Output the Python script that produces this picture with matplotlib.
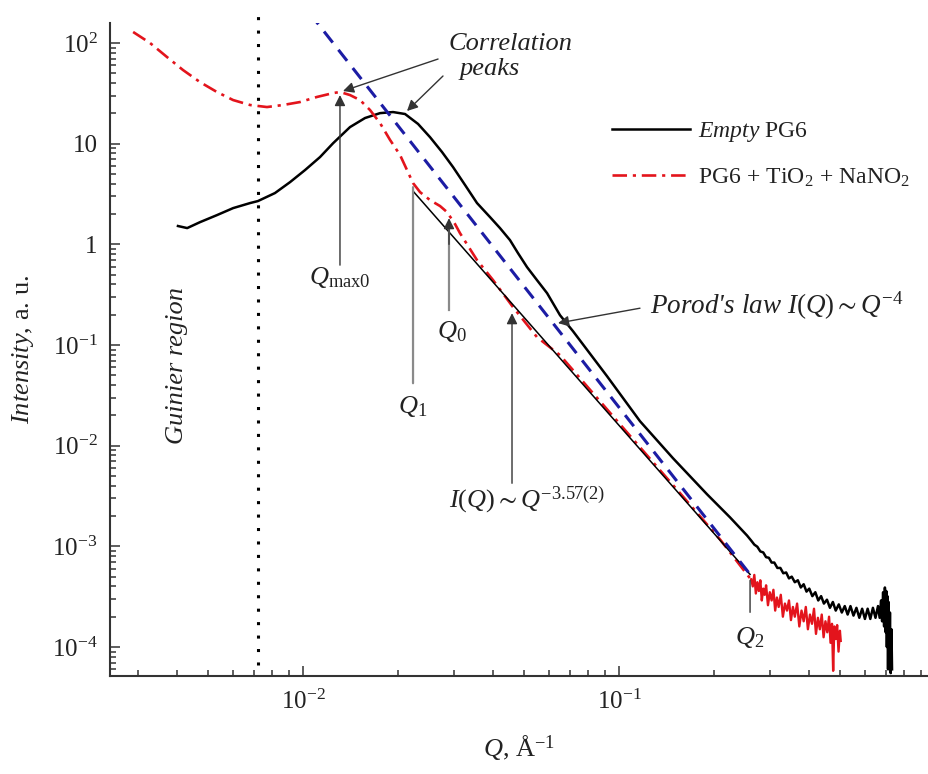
import numpy as np
import matplotlib
matplotlib.use("Agg")
import matplotlib.pyplot as plt
from matplotlib.ticker import LogLocator, FixedLocator, FuncFormatter, NullFormatter

plt.rcParams.update({
    "font.family": "Liberation Serif",
    "mathtext.fontset": "custom",
    "mathtext.rm": "Liberation Serif",
    "mathtext.it": "Liberation Serif:italic",
    "mathtext.bf": "Liberation Serif:bold",
    "mathtext.fallback": "stix",
})

# ---- SANS curves (Q in 1/A, intensity in a.u.) ----
empty_q = [0.00402, 0.00430, 0.00472, 0.00534, 0.00601, 0.00680, 0.00720, 0.00815,
           0.00910, 0.01015, 0.01132, 0.01245, 0.01408, 0.01571, 0.01753, 0.01927,
           0.02103, 0.02312, 0.02523, 0.02754, 0.02984, 0.03257, 0.03553, 0.03906,
           0.04201, 0.04518, 0.04789, 0.05116, 0.05501, 0.05920, 0.06505, 0.07152,
           0.09162, 0.1165, 0.1482, 0.1899, 0.2245, 0.2542]
empty_i = [1.52, 1.45, 1.66, 1.95, 2.29, 2.57, 2.69, 3.23,
           4.15, 5.47, 7.36, 10.1, 14.6, 17.97, 20.1, 20.6,
           19.7, 15.7, 11.6, 8.25, 5.85, 3.88, 2.57, 1.864,
           1.449, 1.101, 0.818, 0.5935, 0.4406, 0.3273, 0.1977, 0.137,
           0.049, 0.0175, 7.5e-3, 3.29e-3, 1.94e-3, 1.28e-3]

# noisy high-Q end of the empty matrix
empty_tail_q = [0.262, 0.268, 0.274, 0.280, 0.286, 0.292, 0.298, 0.304, 0.310, 0.317,
                0.324, 0.331, 0.338, 0.345, 0.352, 0.360, 0.368, 0.376, 0.384, 0.392,
                0.400, 0.409, 0.418, 0.427, 0.436, 0.445, 0.455, 0.465, 0.475, 0.485,
                0.496, 0.507, 0.518, 0.529, 0.540, 0.552, 0.564, 0.576, 0.588, 0.600,
                0.612, 0.624, 0.636, 0.648, 0.660, 0.668, 0.675, 0.680, 0.685, 0.690,
                0.694, 0.698, 0.701, 0.704, 0.707, 0.710, 0.713, 0.716, 0.720, 0.724,
                0.728, 0.731]
empty_tail_i = [1.14e-3, 1.04e-3, 9.9e-4, 8.9e-4, 8.7e-4, 7.8e-4, 7.7e-4, 6.9e-4, 6.9e-4, 6.1e-4,
                6.1e-4, 5.4e-4, 5.5e-4, 4.8e-4, 5.0e-4, 4.4e-4, 4.6e-4, 3.9e-4, 4.2e-4, 3.55e-4,
                3.8e-4, 3.2e-4, 3.5e-4, 2.9e-4, 3.2e-4, 2.7e-4, 2.95e-4, 2.45e-4, 2.8e-4, 2.3e-4,
                2.65e-4, 2.2e-4, 2.55e-4, 2.1e-4, 2.55e-4, 2.05e-4, 2.45e-4, 1.95e-4, 2.4e-4, 1.9e-4,
                2.4e-4, 1.9e-4, 2.45e-4, 1.95e-4, 2.55e-4, 1.95e-4, 2.9e-4, 1.8e-4, 3.5e-4, 1.6e-4,
                3.9e-4, 1.4e-4, 3.6e-4, 1.0e-4, 3.2e-4, 6.0e-5, 2.8e-4, 7.0e-5, 2.2e-4, 5.5e-5,
                1.5e-4, 6.0e-5]

filled_q = [0.00290, 0.00328, 0.00371, 0.00417, 0.00472, 0.00534, 0.00601, 0.00680,
            0.00769, 0.00864, 0.00978, 0.01107, 0.01245, 0.01310, 0.01408, 0.01515,
            0.01629, 0.01753, 0.01885, 0.02028, 0.02229, 0.02346, 0.02523, 0.02714,
            0.02856, 0.03027, 0.03139, 0.03553, 0.03994, 0.04618, 0.05501, 0.06505,
            0.08707, 0.1165, 0.1560, 0.2088, 0.2598]
filled_i = [128.6, 100.0, 72.6, 53.9, 40.9, 32.6, 27.1, 24.2,
            23.1, 24.2, 25.9, 29.1, 31.8, 32.6, 30.4, 27.1,
            21.6, 16.0, 10.9, 7.71, 4.06, 3.30, 2.75, 2.40,
            2.09, 1.59, 1.29, 0.697, 0.441, 0.238, 0.1197, 0.0792,
            0.0276, 9.64e-3, 3.37e-3, 1.17e-3, 4.81e-4]

filled_tail_q = [0.262, 0.265, 0.268, 0.271, 0.274, 0.277, 0.280, 0.283, 0.286, 0.289,
                 0.292, 0.296, 0.300, 0.304, 0.308, 0.312, 0.316, 0.320, 0.325, 0.330,
                 0.335, 0.340, 0.345, 0.350, 0.355, 0.360, 0.366, 0.372, 0.378, 0.384,
                 0.390, 0.396, 0.402, 0.408, 0.414, 0.420, 0.426, 0.432, 0.438, 0.444,
                 0.450, 0.456, 0.462, 0.467, 0.472, 0.476, 0.480, 0.485, 0.490, 0.495,
                 0.500, 0.503]
filled_tail_i = [4.7e-4, 4.0e-4, 5.2e-4, 3.4e-4, 4.4e-4, 3.6e-4, 4.6e-4, 2.9e-4, 3.8e-4, 3.3e-4,
                 4.1e-4, 2.6e-4, 3.5e-4, 2.9e-4, 3.7e-4, 2.3e-4, 3.1e-4, 2.5e-4, 3.3e-4, 2.0e-4,
                 2.7e-4, 2.3e-4, 2.9e-4, 1.85e-4, 2.5e-4, 2.0e-4, 2.7e-4, 1.6e-4, 2.3e-4, 1.8e-4,
                 2.5e-4, 1.5e-4, 2.1e-4, 1.7e-4, 2.4e-4, 1.35e-4, 1.95e-4, 1.5e-4, 2.1e-4, 1.25e-4,
                 1.8e-4, 1.4e-4, 2.0e-4, 1.1e-4, 1.7e-4, 5.8e-5, 1.6e-4, 1.2e-4, 1.65e-4, 9.0e-5,
                 1.45e-4, 1.15e-4]

# power laws
porod_q = [0.0105, 0.26]
porod_amp = 2.4e-6
porod_exp = -4.0
fit_q = [0.02229, 0.2598]
fit_amp = 4.28e-6
fit_exp = -3.57

guinier_q = 0.0072

labels = [r"$\mathit{Empty}$ PG6", r"PG6$\,+\,$TiO$_2$$\,+\,$NaNO$_2$"]

# ---- figure ----
fig = plt.figure(figsize=(9.29, 7.74), dpi=100)
ax = fig.add_axes([0.1184, 0.1266, 0.8816, 0.8437])
ax.set_xscale("log")
ax.set_yscale("log")
ax.set_xlim(2.45e-3, 0.957)
ax.set_ylim(5.15e-5, 158)

ax.axvline(guinier_q, ymin=0.017, ymax=1.02, clip_on=False, color="black",
           lw=2.2, linestyle=(0, (1, 3.4)))

red = "#e3141c"
blue = "#1c1ca4"
ax.plot(empty_q + empty_tail_q, empty_i + empty_tail_i, color="black", lw=1.8,
        label=labels[0])
ax.plot(filled_q, filled_i, color=red, lw=1.9, linestyle=(0, (5.5, 2.2, 1.2, 2.2)),
        label=labels[1])
ax.plot(filled_tail_q, filled_tail_i, color=red, lw=1.7)
fq = np.array(fit_q)
ax.plot(fq, fit_amp * fq ** fit_exp, color="black", lw=1.1)
pq = np.array(porod_q)
ax.plot(pq, porod_amp * pq ** porod_exp, color=blue, lw=2.2, linestyle=(0, (4.6, 3.0)))

# ---- annotations ----
tc = "#222222"
arrow = dict(arrowstyle="-|>", color="#333333", lw=1.0, mutation_scale=16,
             shrinkA=0, shrinkB=0)
plain = dict(arrowstyle="-", color="#333333", lw=1.0, shrinkA=0, shrinkB=0)
grey = dict(arrowstyle="-", color="#8a8a8a", lw=1.6, shrinkA=0, shrinkB=0)

ax.text(0.0452, 97.7, "Correlation", style="italic", fontsize=19, ha="center",
        va="center", color=tc)
ax.text(0.0391, 55.2, "peaks", style="italic", fontsize=19, ha="center",
        va="center", color=tc)
ax.annotate("", xy=(0.01338, 33.3), xytext=(0.02675, 69.3), arrowprops=arrow)
ax.annotate("", xy=(0.02133, 21.1), xytext=(0.02773, 47.0), arrowprops=arrow)

ax.annotate("", xy=(0.01309, 30.4), xytext=(0.01309, 0.621), arrowprops=arrow)
ax.text(0.0131, 0.47, r"$Q_{\mathrm{max0}}$", fontsize=19, ha="center", va="center",
        color=tc)

ax.annotate("", xy=(0.02229, 3.7), xytext=(0.02229, 0.0417), arrowprops=grey)
ax.text(0.02229, 0.0245, r"$Q_1$", fontsize=19, ha="center", va="center", color=tc)

ax.plot([0.02897, 0.02897], [0.222, 1.5], color="#8a8a8a", lw=1.6)
ax.annotate("", xy=(0.02897, 1.82), xytext=(0.02897, 1.0), arrowprops=arrow)
ax.text(0.0295, 0.137, r"$Q_0$", fontsize=19, ha="center", va="center", color=tc)

ax.annotate("", xy=(0.04585, 0.207), xytext=(0.04585, 4.23e-3), arrowprops=arrow)
ax.text(0.0512, 2.87e-3, r"$I(Q)\sim Q^{-3.57(2)}$", fontsize=19, ha="center",
        va="center", color=tc)

ax.annotate("", xy=(0.2598, 2.21e-4), xytext=(0.2598, 4.59e-4), arrowprops=plain)
ax.text(0.2598, 1.25e-4, r"$Q_2$", fontsize=19, ha="center", va="center", color=tc)

ax.annotate("", xy=(0.0641, 0.165), xytext=(0.1165, 0.232), arrowprops=arrow)
ax.text(0.1253, 0.243, r"Porod's law $I(Q)\sim Q^{-4}$", style="italic", fontsize=19.5,
        ha="left", va="center", color=tc)

ax.text(0.00399, 0.063, "Guinier region", style="italic", fontsize=19, rotation=90,
        ha="center", va="center", color=tc)

# ---- axes styling ----
for side in ("top", "right"):
    ax.spines[side].set_visible(False)
for side in ("left", "bottom"):
    ax.spines[side].set_linewidth(1.5)
    ax.spines[side].set_color("#333333")

def log_label(v, pos):
    e = int(round(np.log10(v)))
    if e == 0:
        return "1"
    if e == 1:
        return "10"
    return r"$10^{%d}$" % e

ax.yaxis.set_major_locator(FixedLocator([1e-4, 1e-3, 1e-2, 1e-1, 1, 10, 100]))
ax.yaxis.set_minor_locator(LogLocator(base=10, subs=np.arange(2, 10), numticks=15))
ax.yaxis.set_major_formatter(FuncFormatter(log_label))
ax.yaxis.set_minor_formatter(NullFormatter())
ax.xaxis.set_major_locator(FixedLocator([1e-2, 1e-1]))
ax.xaxis.set_minor_locator(LogLocator(base=10, subs=np.arange(2, 10), numticks=15))
ax.xaxis.set_major_formatter(FuncFormatter(log_label))
ax.xaxis.set_minor_formatter(NullFormatter())

ax.tick_params(which="both", direction="in", color="#333333", width=1.1,
               labelsize=18, labelcolor=tc)
ax.tick_params(which="major", length=7)
ax.tick_params(which="minor", length=4)
ax.tick_params(axis="y", pad=9)
ax.tick_params(axis="x", pad=10)

ax.set_xlabel(r"$Q$, Å$^{-1}$", fontsize=19, color=tc)
ax.xaxis.set_label_coords(0.5, -0.087)
ax.set_ylabel(r"$\mathit{Intensity}$, a. u.", fontsize=19, color=tc)
ax.yaxis.set_label_coords(-0.090, 0.5)

ax.legend(loc="upper left", bbox_to_anchor=(0.613, 0.851), frameon=False,
          fontsize=17, borderpad=0, borderaxespad=0, handlelength=3.3,
          handletextpad=0.35, labelspacing=0.95, labelcolor=tc)

fig.savefig("out.png", dpi=100)
